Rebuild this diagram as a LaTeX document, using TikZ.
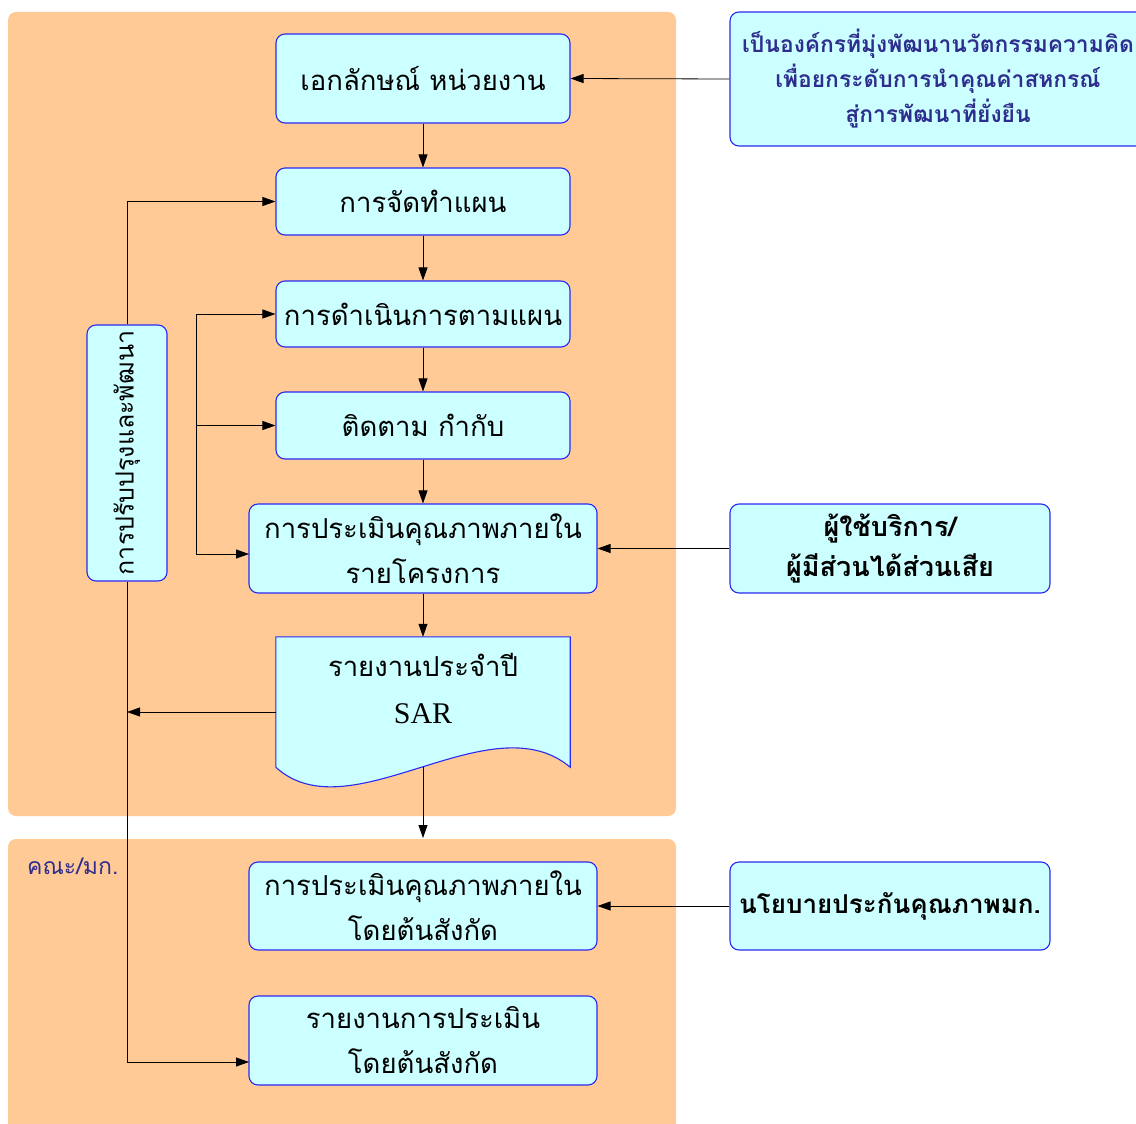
\documentclass[tikz,border=0pt]{standalone}
\usepackage{fontspec}
\newfontfamily\thai[Script=Thai]{Loma}
\newfontfamily\lser{Liberation Serif}
\usetikzlibrary{arrows.meta}
\definecolor{panel}{HTML}{FFCA96}
\definecolor{boxfill}{HTML}{CCFFFF}
\definecolor{boxline}{HTML}{2A2AF0}
\definecolor{navy}{HTML}{2E2E8E}
\begin{document}
\begin{tikzpicture}[x=1pt,y=-1pt,
  panelbox/.style={fill=panel, draw=none, rounded corners=8pt},
  proc/.style={draw=boxline, fill=boxfill, line width=1.1pt, rounded corners=9pt,
    inner sep=0pt, align=center, font=\thai\fontsize{27.5}{45}\selectfont},
  side/.style={proc, font=\thai\bfseries\fontsize{27}{40}\selectfont},
  arr/.style={-{Triangle[length=13pt,width=9pt]}, line width=0.8pt}]
\useasboundingbox (0,0) rectangle (1136,1124);
% panels
\fill[panelbox] (8,12) rectangle (676,816);
\fill[panelbox] (8,839) rectangle (676,1140);
\node[text=navy, font=\thai\fontsize{23}{25}\selectfont, anchor=west, inner sep=0pt] (lbl) at (27,866) {คณะ/มก.};
% main column
\node[proc, minimum width=294pt, minimum height=89pt] (b1) at (423,78.5) {เอกลักษณ์ หน่วยงาน};
\node[proc, minimum width=294pt, minimum height=67pt] (b2) at (423,201.5) {การจัดทำแผน};
\node[proc, minimum width=294pt, minimum height=66pt] (b3) at (423,314) {การดำเนินการตามแผน};
\node[proc, minimum width=294pt, minimum height=67pt] (b4) at (423,425.5) {ติดตาม กำกับ};
\node[proc, minimum width=348pt, minimum height=89pt] (b5) at (423,548.5) {การประเมินคุณภาพภายใน\\รายโครงการ};
% document shape
\node[minimum width=294pt, minimum height=130pt, inner sep=0pt] (doc) at (423,702) {};
\draw[draw=boxline, fill=boxfill, line width=1.1pt] (doc.north west) -- (doc.north east) -- (doc.south east)
  .. controls (490,700) and (350,835) .. (doc.south west) -- cycle;
\node[align=center, font=\thai\fontsize{27.5}{47}\selectfont] (doct) at (423,688) {รายงานประจำปี\\{\lser\fontsize{30}{47}\selectfont SAR}};
\coordinate (docL) at (276,712);
% lower panel
\node[proc, minimum width=348pt, minimum height=88pt] (b11) at (423,906) {การประเมินคุณภาพภายใน\\โดยต้นสังกัด};
\node[proc, minimum width=348pt, minimum height=89pt] (b12) at (423,1040.5) {รายงานการประเมิน\\โดยต้นสังกัด};
\coordinate (pt) at (423,838);
\coordinate (b12in) at (249,1062);
% vertical box
\node[proc, rotate=90, minimum width=256pt, minimum height=80pt, font=\thai\fontsize{25}{30}\selectfont] (bv) at (127,453) {การปรับปรุงและพัฒนา};
% side boxes
\node[side, text=navy, minimum width=416pt, minimum height=134pt, font=\thai\bfseries\fontsize{22.8}{35}\selectfont] (r1) at (938,79) {เป็นองค์กรที่มุ่งพัฒนานวัตกรรมความคิด\\เพื่อยกระดับการนำคุณค่าสหกรณ์\\สู่การพัฒนาที่ยั่งยืน};
\node[side, minimum width=320pt, minimum height=89pt] (r2) at (890,548.5) {ผู้ใช้บริการ/\\ผู้มีส่วนได้ส่วนเสีย};
\node[side, minimum width=320pt, minimum height=88pt, font=\thai\bfseries\fontsize{26}{40}\selectfont] (r3) at (890,906) {นโยบายประกันคุณภาพมก.};
% connectors
\draw[arr] (b1) -- (b2);
\draw[arr] (b2) -- (b3);
\draw[arr] (b3) -- (b4);
\draw[arr] (b4) -- (b5);
\draw[arr] (b5) -- (doc.north);
\draw[arr] (doc.south) -- (pt);
\draw[arr] (r1.west) -- (b1.east);
\draw[arr] (r2.west) -- (b5.east);
\draw[arr] (r3.west) -- (b11.east);
\draw[arr] (bv.east) |- (b2.west);
\draw[arr] (bv.west) |- (b12in);
\draw[arr] (docL) -- (docL -| bv.center);
\coordinate (bx) at (196,0);
\coordinate (b5in) at (249,554);
\draw[arr] (bx |- b3.west) -- (b3.west);
\draw[arr] (bx |- b4.west) -- (b4.west);
\draw[arr] (bx |- b3.west) -- (bx |- b5in) -- (b5in);
\end{tikzpicture}
\end{document}
